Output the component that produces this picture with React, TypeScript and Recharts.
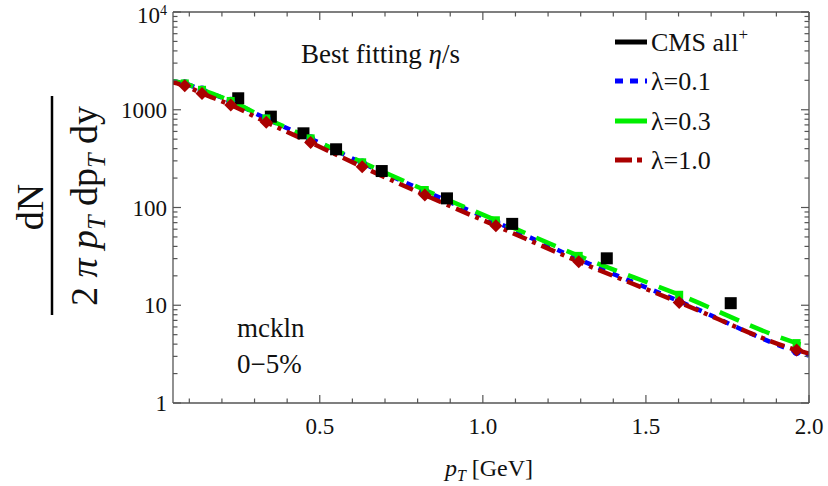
import React from "react";
import { ComposedChart, Line, Scatter, XAxis, YAxis, Legend } from "recharts";

const FONT = "'Liberation Serif', 'Times New Roman', Times, serif";
const AXIS = "#555555";
const TXT = { fontFamily: FONT, fill: "#111" };

// model curves, sampled at the marker points (plus the two ends)
const modelPt = [0.05, 0.086, 0.139, 0.227, 0.336, 0.472, 0.63, 0.822, 1.04, 1.294, 1.602, 1.962, 2.0];
const lambda01 = [1960, 1850, 1590, 1220, 810, 505, 285, 147, 71, 29.5, 11.0, 3.35, 3.05];
const lambda03 = [1960, 1860, 1600, 1230, 815, 510, 290, 151, 74, 32, 12.8, 4.1, 3.75];
const lambda10 = [1900, 1760, 1470, 1120, 745, 461, 261, 134, 65, 27.9, 10.7, 3.48, 3.2];

// CMS all+ points
const cmsPt = [0.25, 0.35, 0.45, 0.55, 0.69, 0.89, 1.09, 1.38, 1.76];
const cmsVal = [1310, 850, 574, 394, 236, 124, 68, 30.2, 10.5];

const legendNames = ["CMS all", "λ=0.1", "λ=0.3", "λ=1.0"];

const xMajor = [0.5, 1.0, 1.5, 2.0];
const xMajorLabels = ["0.5", "1.0", "1.5", "2.0"];
const xMinor = [0.1, 0.2, 0.3, 0.4, 0.6, 0.7, 0.8, 0.9, 1.1, 1.2, 1.3, 1.4, 1.6, 1.7, 1.8, 1.9];

const yMajor = [1, 10, 100, 1000, 10000];
const yMajorLabels = ["1", "10", "100", "1000", "10"];
const yMinor = [
  2, 3, 4, 5, 6, 7, 8, 9, 20, 30, 40, 50, 60, 70, 80, 90,
  200, 300, 400, 500, 600, 700, 800, 900, 2000, 3000, 4000, 5000, 6000, 7000, 8000, 9000,
];

const toRows = (vals: number[]) => modelPt.map((pT, i) => ({ pT, v: vals[i] }));
const blueData = toRows(lambda01);
const greenData = toRows(lambda03);
const redData = toRows(lambda10);
const cmsData = cmsPt.map((pT, i) => ({ pT, v: cmsVal[i] }));

const xTicks = [...xMinor, ...xMajor].sort((a, b) => a - b);
const yTicks = [...yMinor, ...yMajor].sort((a, b) => a - b);

const majorIdx = (arr: number[], v: number) => arr.findIndex((m) => Math.abs(m - v) < 1e-6);

const BLUE = "#0000ff";
const GREEN = "#00ee00";
const RED = "#aa0000";

function BottomTick(props: any) {
  const { x, y, payload } = props;
  const mi = majorIdx(xMajor, payload.value);
  return (
    <g>
      <line x1={x} x2={x} y1={y} y2={y - (mi >= 0 ? 8 : 4.5)} stroke={AXIS} strokeWidth={1.2} />
      {mi >= 0 && (
        <text x={x} y={y + 31} textAnchor="middle" fontSize={23} style={TXT}>
          <tspan>{xMajorLabels[mi]}</tspan>
        </text>
      )}
    </g>
  );
}

function TopTick(props: any) {
  const { x, y, payload } = props;
  const mi = majorIdx(xMajor, payload.value);
  return <line x1={x} x2={x} y1={y} y2={y + (mi >= 0 ? 8 : 4.5)} stroke={AXIS} strokeWidth={1.2} />;
}

function LeftTick(props: any) {
  const { x, y, payload } = props;
  const mi = majorIdx(yMajor, payload.value);
  const top = mi === yMajor.length - 1;
  return (
    <g>
      <line x1={x} x2={x + (mi >= 0 ? 8 : 4.5)} y1={y} y2={y} stroke={AXIS} strokeWidth={1.2} />
      {mi >= 0 && (
        <text x={x - 6} y={top ? y + 3 : y} dy="0.35em" textAnchor="end" fontSize={23} style={TXT}>
          <tspan>{yMajorLabels[mi]}</tspan>
          {top && (
            <tspan dy={-8} fontSize={14}>
              4
            </tspan>
          )}
        </text>
      )}
    </g>
  );
}

function RightTick(props: any) {
  const { x, y, payload } = props;
  const mi = majorIdx(yMajor, payload.value);
  return <line x1={x} x2={x - (mi >= 0 ? 8 : 4.5)} y1={y} y2={y} stroke={AXIS} strokeWidth={1.2} />;
}

const makeDot = (kind: "circle" | "square" | "diamond", color: string) => (props: any) => {
  const { cx, cy, index } = props;
  const key = `${kind}-${index}`;
  if (index === 0 || index === modelPt.length - 1 || cx == null) return <g key={key} />;
  if (kind === "circle") return <circle key={key} cx={cx} cy={cy} r={4.5} fill={color} />;
  if (kind === "square") return <rect key={key} x={cx - 4} y={cy - 4} width={8} height={8} fill={color} />;
  return (
    <path
      key={key}
      d={`M${cx},${cy - 6.5}L${cx + 6.5},${cy}L${cx},${cy + 6.5}L${cx - 6.5},${cy}Z`}
      fill={color}
    />
  );
};

const CmsSquare = (props: any) => {
  const { cx, cy } = props;
  return <rect x={cx - 6} y={cy - 6} width={12} height={12} fill="#000" />;
};

function LegendBox() {
  const rows = [22, 61, 101, 140];
  const styles = [
    { stroke: "#000", dash: undefined },
    { stroke: BLUE, dash: "8 7" },
    { stroke: GREEN, dash: undefined },
    { stroke: RED, dash: "17 5 5 5" },
  ];
  return (
    <svg width={220} height={160} style={{ overflow: "visible" }}>
      {rows.map((ry, i) => (
        <g key={i}>
          <line x1={3} x2={35} y1={ry} y2={ry} stroke={styles[i].stroke} strokeWidth={5} strokeDasharray={styles[i].dash} />
          <text x={39} y={ry + 9} fontSize={26} style={TXT}>
            <tspan>{legendNames[i]}</tspan>
            {i === 0 && (
              <tspan dy={-11} fontSize={17}>
                +
              </tspan>
            )}
          </text>
        </g>
      ))}
    </svg>
  );
}

export default function App() {
  return (
    <div
      style={{ position: "absolute", left: 0, top: 0, width: 828, height: 486, background: "#fff", fontFamily: FONT }}
    >
      <ComposedChart width={828} height={486} margin={{ top: 11, right: 18, bottom: 82, left: 172 }}>
        <XAxis
          dataKey="pT"
          type="number"
          domain={[0.05, 2.0]}
          allowDataOverflow
          ticks={xTicks}
          interval={0}
          tick={<BottomTick />}
          tickSize={0}
          tickMargin={0}
          tickLine={false}
          axisLine={{ stroke: AXIS, strokeWidth: 1.3 }}
          height={1}
        />
        <XAxis
          xAxisId="top"
          orientation="top"
          dataKey="pT"
          type="number"
          domain={[0.05, 2.0]}
          allowDataOverflow
          ticks={xTicks}
          interval={0}
          tick={<TopTick />}
          tickSize={0}
          tickMargin={0}
          tickLine={false}
          axisLine={{ stroke: AXIS, strokeWidth: 1.3 }}
          height={1}
        />
        <YAxis
          type="number"
          scale="log"
          domain={[1, 10000]}
          allowDataOverflow
          ticks={yTicks}
          interval={0}
          tick={<LeftTick />}
          tickSize={0}
          tickMargin={0}
          tickLine={false}
          axisLine={{ stroke: AXIS, strokeWidth: 1.3 }}
          width={1}
        />
        <YAxis
          yAxisId="right"
          orientation="right"
          type="number"
          scale="log"
          domain={[1, 10000]}
          allowDataOverflow
          ticks={yTicks}
          interval={0}
          tick={<RightTick />}
          tickSize={0}
          tickMargin={0}
          tickLine={false}
          axisLine={{ stroke: AXIS, strokeWidth: 1.3 }}
          width={1}
        />
        <Line
          data={blueData}
          dataKey="v"
          type="monotone"
          stroke={BLUE}
          strokeWidth={4.5}
          strokeDasharray="7 8"
          dot={makeDot("circle", BLUE)}
          activeDot={false}
          isAnimationActive={false}
        />
        <Line
          data={greenData}
          dataKey="v"
          type="monotone"
          stroke={GREEN}
          strokeWidth={4.5}
          strokeDasharray="21 12"
          dot={makeDot("square", GREEN)}
          activeDot={false}
          isAnimationActive={false}
        />
        <Line
          data={redData}
          dataKey="v"
          type="monotone"
          stroke={RED}
          strokeWidth={4.5}
          strokeDasharray="15 6 4 6"
          dot={makeDot("diamond", RED)}
          activeDot={false}
          isAnimationActive={false}
        />
        <Scatter data={cmsData} dataKey="v" shape={<CmsSquare />} isAnimationActive={false} />
        <Legend
          content={() => <LegendBox />}
          layout="horizontal"
          align="center"
          verticalAlign="middle"
          wrapperStyle={{ position: "absolute", left: 612, top: 20, width: 220, height: 160 }}
        />
        <text x={301} y={63} fontSize={27} style={TXT}>
          <tspan>Best fitting </tspan>
          <tspan fontStyle="italic">η</tspan>
          <tspan>/s</tspan>
        </text>
        <text x={237} y={337} fontSize={27} style={TXT}>
          <tspan>mckln</tspan>
        </text>
        <text x={237} y={373} fontSize={27} style={TXT}>
          <tspan>0−5%</tspan>
        </text>
        <text x={489} y={476} textAnchor="middle" fontSize={24} style={TXT}>
          <tspan fontStyle="italic">p</tspan>
          <tspan fontStyle="italic" fontSize={16} dy={5}>
            T
          </tspan>
          <tspan dy={-5}> [GeV]</tspan>
        </text>
        <line x1={52} x2={52} y1={96} y2={315} stroke="#000" strokeWidth={2.5} />
        <text transform="translate(43,207) rotate(-90)" textAnchor="middle" fontSize={38} style={TXT}>
          <tspan>dN</tspan>
        </text>
        <text transform="translate(97,206) rotate(-90)" textAnchor="middle" fontSize={38} style={TXT}>
          <tspan>2 </tspan>
          <tspan fontStyle="italic">π</tspan>
          <tspan> </tspan>
          <tspan fontStyle="italic">p</tspan>
          <tspan fontStyle="italic" fontSize={26} dy={8}>
            T
          </tspan>
          <tspan dy={-8}> dp</tspan>
          <tspan fontStyle="italic" fontSize={26} dy={8}>
            T
          </tspan>
          <tspan dy={-8}> dy</tspan>
        </text>
      </ComposedChart>
    </div>
  );
}
